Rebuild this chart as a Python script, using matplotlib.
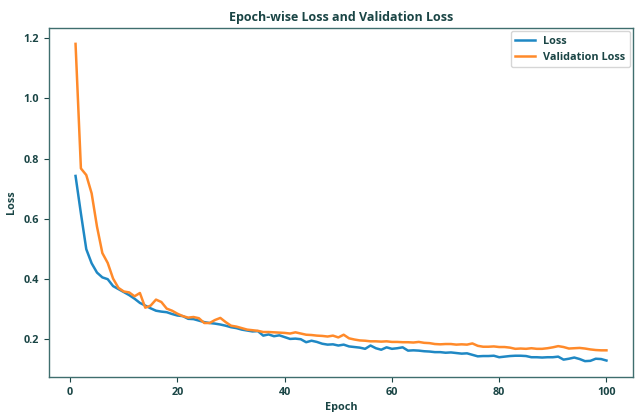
import matplotlib
matplotlib.use("Agg")
import matplotlib.pyplot as plt
import numpy as np

epochs = list(range(1, 101))
loss = [0.742, 0.617, 0.498, 0.451, 0.420, 0.404, 0.398, 0.375, 0.365, 0.355,
        0.345, 0.333, 0.319, 0.310, 0.301, 0.293, 0.290, 0.288, 0.282, 0.277,
        0.275, 0.266, 0.265, 0.260, 0.255, 0.252, 0.250, 0.247, 0.243, 0.238,
        0.235, 0.230, 0.227, 0.224, 0.225, 0.210, 0.214, 0.208, 0.211, 0.205,
        0.199, 0.200, 0.198, 0.188, 0.193, 0.189, 0.183, 0.180, 0.181, 0.177,
        0.180, 0.174, 0.172, 0.170, 0.166, 0.177, 0.168, 0.163, 0.171, 0.166,
        0.168, 0.171, 0.160, 0.161, 0.160, 0.158, 0.157, 0.155, 0.155, 0.153,
        0.154, 0.152, 0.150, 0.151, 0.146, 0.141, 0.142, 0.142, 0.143, 0.138,
        0.140, 0.142, 0.143, 0.143, 0.142, 0.138, 0.138, 0.137, 0.138, 0.138,
        0.140, 0.130, 0.133, 0.137, 0.132, 0.125, 0.126, 0.133, 0.132, 0.127]
val_loss = [1.182, 0.767, 0.745, 0.684, 0.573, 0.485, 0.452, 0.400, 0.369, 0.357,
            0.354, 0.341, 0.352, 0.303, 0.310, 0.330, 0.322, 0.300, 0.293, 0.283,
            0.275, 0.270, 0.272, 0.268, 0.252, 0.252, 0.262, 0.269, 0.255, 0.243,
            0.240, 0.235, 0.230, 0.228, 0.226, 0.222, 0.222, 0.221, 0.220, 0.219,
            0.217, 0.221, 0.217, 0.213, 0.212, 0.210, 0.209, 0.207, 0.210, 0.204,
            0.213, 0.201, 0.197, 0.194, 0.193, 0.191, 0.191, 0.190, 0.191, 0.189,
            0.189, 0.188, 0.188, 0.187, 0.189, 0.186, 0.185, 0.182, 0.181, 0.182,
            0.182, 0.180, 0.181, 0.180, 0.184, 0.176, 0.173, 0.173, 0.174, 0.172,
            0.172, 0.170, 0.166, 0.167, 0.166, 0.168, 0.166, 0.166, 0.168, 0.171,
            0.175, 0.172, 0.167, 0.168, 0.169, 0.167, 0.164, 0.162, 0.161, 0.161]

txt = "#1a4545"
plt.rcParams["font.family"] = ["Open Sans", "DejaVu Sans"]
plt.rcParams["font.weight"] = "bold"

fig = plt.figure(figsize=(6.35, 4.12), dpi=100)
ax = fig.add_axes([49/635, 35/412, 584/635, 349/412])
ax.plot(epochs, loss, color="#1f88c4", lw=1.8, label="Loss")
ax.plot(epochs, val_loss, color="#ff8a2a", lw=1.8, label="Validation Loss")

ax.set_title("Epoch-wise Loss and Validation Loss", fontsize=9, color=txt, fontweight="bold", pad=5)
ax.set_xlabel("Epoch", fontsize=7.8, color=txt, fontweight="bold", labelpad=3)
ax.set_ylabel("Loss", fontsize=7.8, color=txt, fontweight="bold", labelpad=5)
ax.tick_params(colors=txt, labelsize=7.8, length=3.5, width=0.8)
for s in ax.spines.values():
    s.set_color("#3f6e6e")
    s.set_linewidth(1.0)
leg = ax.legend(loc="upper right", fontsize=7.8, frameon=True, borderaxespad=0.3,
                handlelength=1.8)
for t in leg.get_texts():
    t.set_color(txt)
fig.savefig("out.png", dpi=100)
